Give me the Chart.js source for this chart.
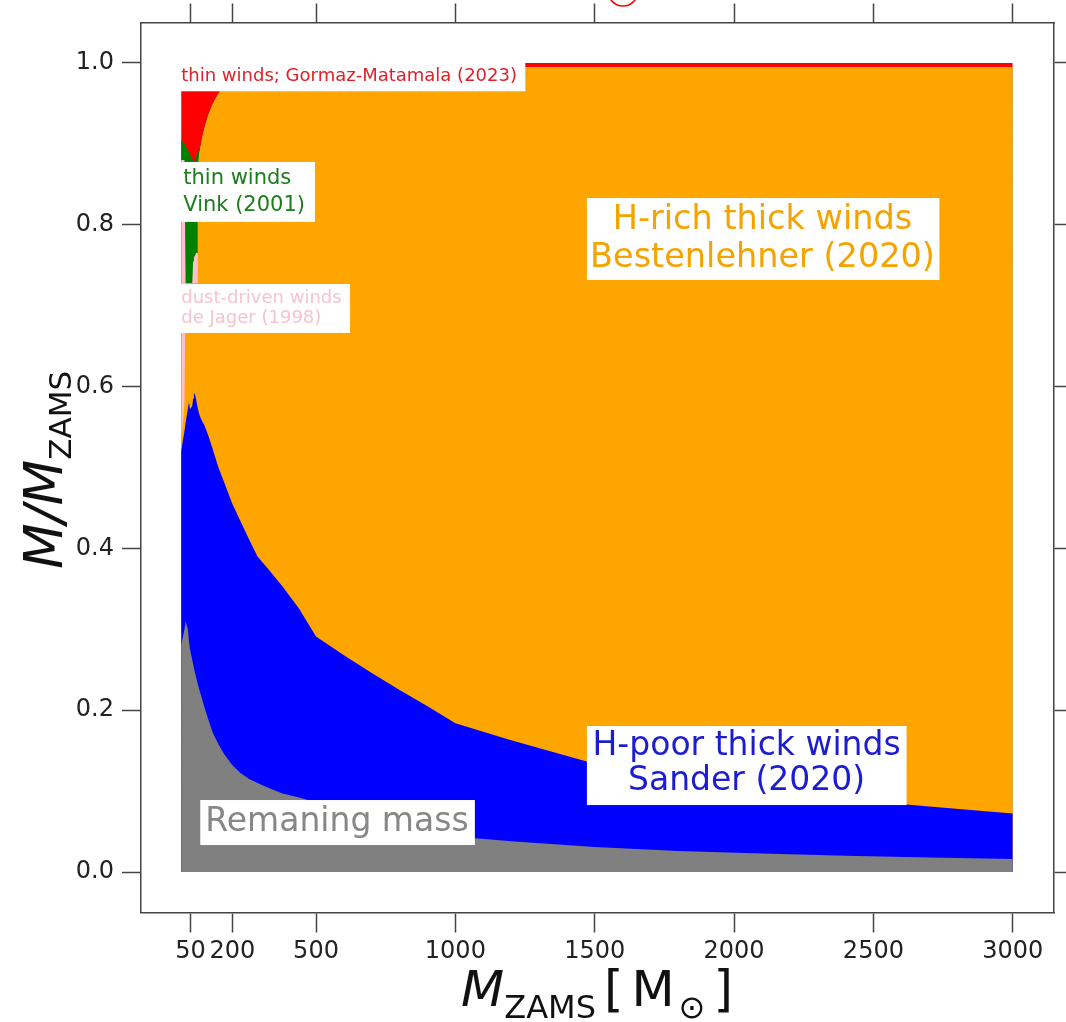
<!DOCTYPE html>
<html><head><meta charset="utf-8">
<script src="https://cdn.jsdelivr.net/npm/chart.js@4.4.1/dist/chart.umd.min.js"></script>
<style>html,body{margin:0;padding:0;background:#fff}#wrap{width:1066px;height:1022px}</style>
</head><body><div id="wrap"><canvas id="c" width="1066" height="1022"></canvas></div>
<script>
// ---- data ----
const masses = [16, 28, 32, 40, 44, 48, 56, 59, 62, 66, 70, 73, 76, 80, 85, 92, 100, 115, 130, 150, 170, 200, 230, 260, 290, 330, 380, 440, 500, 600, 700, 800, 900, 1000, 1200, 1500, 1800, 2100, 2400, 2700, 3000];
// upper edge of each stacked layer (cumulative fraction M/M_ZAMS)
const remainingTop = [0.28, 0.30, 0.31, 0.30, 0.285, 0.275, 0.262, 0.257, 0.252, 0.246, 0.240, 0.236, 0.232, 0.227, 0.221, 0.213, 0.203, 0.187, 0.172, 0.158, 0.146, 0.132, 0.122, 0.115, 0.110, 0.104, 0.097, 0.092, 0.086, 0.075, 0.065, 0.057, 0.050, 0.044, 0.038, 0.031, 0.026, 0.023, 0.020, 0.018, 0.016];
const hPoorTop = [0.52, 0.545, 0.555, 0.572, 0.581, 0.572, 0.576, 0.585, 0.592, 0.590, 0.584, 0.578, 0.573, 0.567, 0.562, 0.557, 0.552, 0.538, 0.522, 0.500, 0.482, 0.455, 0.433, 0.411, 0.390, 0.374, 0.353, 0.325, 0.291, 0.268, 0.246, 0.225, 0.205, 0.184, 0.163, 0.134, 0.115, 0.101, 0.090, 0.081, 0.0725];
const hRichTop = [0.525, 0.58, 0.728, 0.728, 0.728, 0.728, 0.728, 0.728, 0.728, 0.728, 0.728, 0.728, 0.86, 0.885, 0.895, 0.908, 0.92, 0.937, 0.95, 0.962, 0.972, 0.98, 0.985, 0.989, 0.991, 0.993, 0.994, 0.995, 0.995, 0.995, 0.995, 0.995, 0.995, 0.995, 0.995, 0.995, 0.995, 0.995, 0.995, 0.995, 0.995];
const dustTop = [0.88, 0.88, 0.728, 0.728, 0.728, 0.728, 0.728, 0.755, 0.76, 0.762, 0.765, 0.765, 0.86, 0.885, 0.895, 0.908, 0.92, 0.937, 0.95, 0.962, 0.972, 0.98, 0.985, 0.989, 0.991, 0.993, 0.994, 0.995, 0.995, 0.995, 0.995, 0.995, 0.995, 0.995, 0.995, 0.995, 0.995, 0.995, 0.995, 0.995, 0.995];
const vinkTop = [0.905, 0.90, 0.897, 0.893, 0.89, 0.887, 0.882, 0.880, 0.878, 0.879, 0.884, 0.888, 0.89, 0.892, 0.896, 0.908, 0.92, 0.937, 0.95, 0.962, 0.972, 0.98, 0.985, 0.989, 0.991, 0.993, 0.994, 0.995, 0.995, 0.995, 0.995, 0.995, 0.995, 0.995, 0.995, 0.995, 0.995, 0.995, 0.995, 0.995, 0.995];
const gormazTop = [1, 1, 1, 1, 1, 1, 1, 1, 1, 1, 1, 1, 1, 1, 1, 1, 1, 1, 1, 1, 1, 1, 1, 1, 1, 1, 1, 1, 1, 1, 1, 1, 1, 1, 1, 1, 1, 1, 1, 1, 1];

const xTickValues = [50, 200, 500, 1000, 1500, 2000, 2500, 3000];
const yTickValues = [0, 0.2, 0.4, 0.6, 0.8, 1.0];

const layerNames = ['Remaning mass', 'H-poor thick winds', 'H-rich thick winds', 'dust-driven winds', 'thin winds Vink', 'thin winds Gormaz-Matamala'];
const layerColors = ['#808080', '#0000ff', '#ffa500', '#ffc0cb', '#008000', '#ff0000'];
const layerTops = [remainingTop, hPoorTop, hRichTop, dustTop, vinkTop, gormazTop];

// ---- annotations (text boxes, in data coordinates) ----
const notes = [
  {lines: ['thin winds; Gormaz-Matamala (2023)'], color: '#e0202a', size: 18, box: [-2, 1251, 1.001, 0.965], align: 'left', tx: 16.5, ty: [0.983]},
  {lines: ['thin winds', 'Vink (2001)'], color: '#1b7d1b', size: 21, box: [-2, 496, 0.8776, 0.8035], align: 'left', tx: 23.7, ty: [0.8566, 0.8232]},
  {lines: ['dust-driven winds', 'de Jager (1998)'], color: '#f6c3cf', size: 18, box: [-2, 622, 0.7268, 0.6663], align: 'left', tx: 16.5, ty: [0.7095, 0.6848]},
  {lines: ['H-rich thick winds', 'Bestenlehner (2020)'], color: '#f5a300', size: 33.5, box: [1472, 2737, 0.8331, 0.7318], align: 'center', tx: 2102, ty: [0.8059, 0.7590]},
  {lines: ['H-poor thick winds', 'Sander (2020)'], color: '#1c1cd0', size: 33, box: [1472, 2619, 0.1805, 0.0828], align: 'center', tx: 2045, ty: [0.1557, 0.1125]},
  {lines: ['Remaning mass'], color: '#878787', size: 33, box: [84.6, 1070, 0.0890, 0.0334], align: 'center', tx: 575, ty: [0.0618]}
];

const FONT = 'DejaVu Sans';

const notesPlugin = {
  id: 'notes',
  afterDatasetsDraw(chart) {
    const ctx = chart.ctx, xs = chart.scales.x, ys = chart.scales.y;
    ctx.save();
    notes.forEach(n => {
      const x0 = xs.getPixelForValue(n.box[0]), x1 = xs.getPixelForValue(n.box[1]);
      const y0 = ys.getPixelForValue(n.box[2]), y1 = ys.getPixelForValue(n.box[3]);
      ctx.fillStyle = '#ffffff';
      ctx.fillRect(x0, y0, x1 - x0, y1 - y0);
      ctx.fillStyle = n.color;
      ctx.font = n.size + 'px "' + FONT + '"';
      ctx.textAlign = n.align;
      ctx.textBaseline = 'middle';
      n.lines.forEach((t, i) => ctx.fillText(t, xs.getPixelForValue(n.tx), ys.getPixelForValue(n.ty[i])));
    });
    ctx.restore();
  },
  afterDraw(chart) {
    const ctx = chart.ctx;
    function rich(parts) {
      let w = 0;
      parts.forEach(p => { ctx.font = p.font; p.w = ctx.measureText(p.t).width; w += p.w + (p.gap || 0); });
      let x = -w / 2;
      parts.forEach(p => { ctx.font = p.font; ctx.fillText(p.t, x + (p.gap || 0), p.dy); x += p.w + (p.gap || 0); });
    }
    ctx.save();
    ctx.fillStyle = '#111';
    ctx.textAlign = 'left';
    ctx.textBaseline = 'alphabetic';
    // x title
    ctx.save();
    ctx.translate(597, 1006);
    rich([
      {t: 'M', font: 'italic 50px "' + FONT + '"', dy: 0},
      {t: 'ZAMS', font: '32px "' + FONT + '"', dy: 12},
      {t: '[', font: '50px "' + FONT + '"', dy: 0, gap: 8},
      {t: 'M', font: '50px "' + FONT + '"', dy: 0, gap: 8},
      {t: '\u2299', font: '32px "' + FONT + '"', dy: 12, gap: 4},
      {t: ']', font: '50px "' + FONT + '"', dy: 0, gap: 8}
    ]);
    ctx.restore();
    // y title
    ctx.save();
    ctx.translate(62, 470);
    ctx.rotate(-Math.PI / 2);
    rich([
      {t: 'M/M', font: 'italic 53px "' + FONT + '"', dy: 0},
      {t: 'ZAMS', font: '31px "' + FONT + '"', dy: 9}
    ]);
    ctx.restore();
    // red circle mark at the top edge
    ctx.beginPath();
    ctx.strokeStyle = '#ff0000';
    ctx.lineWidth = 1.5;
    ctx.arc(623, -9, 15, 0, Math.PI * 2);
    ctx.stroke();
    ctx.restore();
  }
};

const datasets = layerTops.map((arr, i) => ({
  label: layerNames[i],
  data: masses.map((m, j) => ({x: m, y: arr[j]})),
  backgroundColor: layerColors[i],
  borderColor: layerColors[i],
  borderWidth: 0,
  pointRadius: 0,
  tension: 0,
  fill: 'origin'
}));

const tickFont = {family: FONT, size: 24};
const gridBase = {drawOnChartArea: false, drawTicks: true, tickWidth: 1.5, tickColor: '#444'};
const borderBase = {display: true, color: '#444', width: 1.5};

new Chart(document.getElementById('c'), {
  type: 'line',
  data: {datasets},
  options: {
    responsive: false,
    animation: false,
    events: [],
    layout: {padding: 0},
    plugins: {legend: {display: false}, tooltip: {enabled: false}},
    scales: {
      x: {
        type: 'linear', position: 'bottom', min: -128, max: 3148,
        afterBuildTicks: s => { s.ticks = xTickValues.map(v => ({value: v})); },
        afterFit: s => { s.height = 109.5; },
        ticks: {font: tickFont, color: '#222', padding: 5, autoSkip: false, maxRotation: 0, callback: v => String(v)},
        grid: Object.assign({tickLength: 20}, gridBase),
        border: borderBase
      },
      x2: {
        type: 'linear', position: 'top', min: -128, max: 3148,
        afterBuildTicks: s => { s.ticks = xTickValues.map(v => ({value: v})); },
        afterFit: s => { s.height = 22.5; },
        ticks: {display: false},
        grid: Object.assign({tickLength: 19}, gridBase),
        border: borderBase
      },
      y: {
        type: 'linear', position: 'left', min: -0.05, max: 1.05,
        afterBuildTicks: s => { s.ticks = yTickValues.map(v => ({value: v})); },
        afterFit: s => { s.width = 141; },
        ticks: {font: tickFont, color: '#222', padding: 8, callback: v => Number(v).toFixed(1)},
        grid: Object.assign({tickLength: 19}, gridBase),
        border: borderBase
      },
      y2: {
        type: 'linear', position: 'right', min: -0.05, max: 1.05,
        afterBuildTicks: s => { s.ticks = yTickValues.map(v => ({value: v})); },
        afterFit: s => { s.width = 12; },
        ticks: {display: false},
        grid: Object.assign({tickLength: 12}, gridBase),
        border: borderBase
      }
    }
  },
  plugins: [notesPlugin]
});
</script>
</body></html>
